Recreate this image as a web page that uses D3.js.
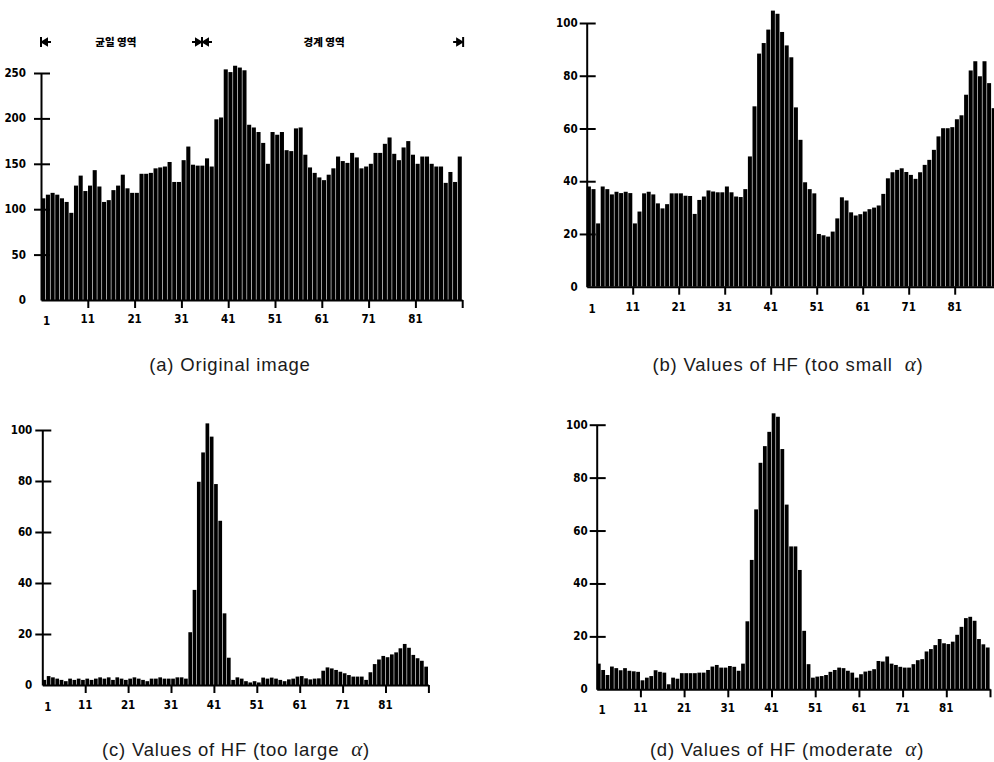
<!DOCTYPE html>
<meta charset="utf-8">
<style>
body { margin: 0; background: #fff; }
svg { display: block; }
.tk { font-family: "Liberation Sans Narrow", "DejaVu Sans Condensed", sans-serif; font-weight: bold; font-size: 11.5px; fill: #000; }
.hd { font-family: "Noto Sans CJK KR", sans-serif; font-weight: 900; font-size: 10.5px; fill: #000; }
.caption { font-family: "Liberation Sans", Arial, sans-serif; font-size: 18.5px; letter-spacing: 0.8px; fill: #1a1a1a; }
.alpha { font-family: "Liberation Serif", "DejaVu Serif", serif; font-style: italic; font-size: 21px; }
</style>
<body>
<script src="https://d3js.org/d3.v7.min.js"></script>
<script>

// bar values, index 1..90
var original = [112,116,118,116,112,108,96,126,137,120,
  126,143,125,108,110,121,126,138,123,118,
  118,139,139,140,145,146,147,152,130,130,
  154,169,149,148,148,156,147,199,201,254,
  251,258,256,253,193,190,185,173,150,185,
  182,185,165,164,189,190,160,146,140,135,
  132,138,145,158,153,151,162,157,145,147,
  150,162,162,172,179,161,154,168,175,160,
  150,158,158,150,147,147,129,141,130,158];

var hfSmall = [38,37,24,38,37,35,36,35.5,36,35.5,
  24,28.5,35.4,36,35,31.6,29.7,31.3,35.4,35.4,
  35.4,34.5,34.4,27.6,32.9,34.2,36.5,36.1,35.8,35.8,
  38,35.8,34.2,34,37,49.4,68.4,88.4,92.4,97.5,
  104.7,103.5,96.6,91.5,87,68,55.7,39.6,37,35.4,
  20,19.5,19,20.9,25.9,33.9,32.7,28.2,27,27.5,
  28.5,29.4,30,30.8,35.2,41.1,43.4,44.3,44.9,43.5,
  42.4,40.9,43.4,46.2,48.1,51.9,57,60.1,60.1,60.5,
  63.5,65,72.8,82,85.5,79.8,85.5,77.2,67.7,60];

var hfLarge = [2,3.5,3,2.5,2,1.5,2.5,2,2.5,2,
  2.5,2,2.5,3,2.5,3,2,3,2.5,2,
  2.5,3,2.5,2,1.5,2.5,2.5,3,2.5,2.5,
  2.5,3,3,2.5,20.7,37.3,79.7,91.2,102.6,97.4,
  78.8,64.4,28.1,10.7,2,3,2.5,1.5,1,1.5,
  1,2.9,2.5,2.9,2.5,2,1.5,2.2,2.5,3.3,
  3.5,2.6,2.2,2.5,2.6,5.6,6.9,6.5,5.9,5.2,
  4.6,3.9,3.3,3.3,3.3,2,5,8.2,10,11.4,
  10.9,12,12.8,14.4,16.1,14.6,11.8,10.5,9.5,7.2];

var hfModerate = [9.7,7.3,5.4,8.6,8,7.2,8,7,6.8,6.6,
  3.4,4.4,5,7.2,6.6,6.3,1.9,4.4,4,6.1,
  6.1,6.1,6.1,6.3,6.3,7.3,8.6,9.2,8.2,8.2,
  8.8,8.5,7,9.7,25.7,48.9,68,85.6,91.9,97.3,
  104.3,103,90.8,69.8,54,54,45.1,22.1,9.5,4.4,
  4.8,5,5.4,6.6,7.3,8.2,8,7,6.3,4.4,
  5.7,6.7,7,7.6,10.7,10.5,12.4,9.7,9.2,8.5,
  8.2,8.2,9.5,11,11.4,14.3,15.2,16.7,19,17.4,
  17.1,18,20.6,23.6,26.9,27.4,25.9,19,17,15.8];

var xLabels = [1, 11, 21, 31, 41, 51, 61, 71, 81];
var xTickMarks = [11, 21, 31, 41, 51, 61, 71, 81, 91];
var yTicksA = [0, 50, 100, 150, 200, 250];
var yTicksHF = [0, 20, 40, 60, 80, 100];

var regions = [
  {name: "균일 영역", from: 1, to: 35.4, labelAt: 17},
  {name: "경계 영역", from: 35.4, to: 91.2, labelAt: 61.5}
];

var panels = [
  {values: original, yMax: 250, yTicks: yTicksA, left: 41, step: 4.68, base: 300, top: 73, lgap: 15, lbl: 19,
   caption: "(a) Original image", alpha: false, capX: 230, capY: 371},
  {values: hfSmall, yMax: 100, yTicks: yTicksHF, left: 586.7, step: 4.6, base: 286.7, top: 23, lgap: 9, lbl: 20,
   caption: "(b) Values of HF (too small  ", alpha: true, capX: 788, capY: 371},
  {values: hfLarge, yMax: 100, yTicks: yTicksHF, left: 42.3, step: 4.29, base: 685, top: 430, lgap: 10, lbl: 20,
   caption: "(c) Values of HF (too large  ", alpha: true, capX: 236, capY: 756},
  {values: hfModerate, yMax: 100, yTicks: yTicksHF, left: 596.7, step: 4.37, base: 689.3, top: 424.7, lgap: 9, lbl: 19,
   caption: "(d) Values of HF (moderate  ", alpha: true, capX: 787, capY: 756}
];

var svg = d3.select("body").append("svg")
  .attr("width", 994)
  .attr("height", 762);

panels.forEach(function(p, k) {
  var x = d3.scaleLinear().domain([1, 91]).range([p.left, p.left + 90 * p.step]);
  var y = d3.scaleLinear().domain([0, p.yMax]).range([p.base, p.top]);
  var g = svg.append("g");

  g.selectAll("rect")
    .data(p.values)
    .enter().append("rect")
      .attr("x", function(d, i) { return x(i + 1) + 0.2; })
      .attr("y", function(d) { return y(d); })
      .attr("width", p.step - 0.6)
      .attr("height", function(d) { return y(0) - y(d); })
      .attr("fill", "#000");

  // x axis
  var xa = g.append("g")
    .attr("transform", "translate(0," + p.base + ")")
    .call(d3.axisBottom(x).tickValues(xTickMarks).tickSizeInner(8).tickSizeOuter(0).tickFormat(""));
  xa.select(".domain").attr("stroke", "#000").attr("stroke-width", 2);
  xa.selectAll(".tick line").attr("stroke", "#000").attr("stroke-width", 2);

  g.selectAll(".xl")
    .data(xLabels)
    .enter().append("text")
      .attr("class", "tk")
      .attr("text-anchor", "middle")
      .attr("x", function(d) { return d == 1 ? x(d) + 5.5 : x(d); })
      .attr("y", function(d) { return p.base + p.lbl + (d == 1 ? 2 : 0); })
      .attr("dy", "0.35em")
      .text(function(d) { return d; });

  // y axis with crossing ticks
  var ya = g.append("g")
    .attr("transform", "translate(" + p.left + ",0)")
    .call(d3.axisLeft(y).tickValues(p.yTicks).tickSizeInner(7).tickSizeOuter(0).tickFormat(""));
  ya.select(".domain").attr("stroke", "#000").attr("stroke-width", 2);
  ya.selectAll(".tick line")
    .attr("x1", 9)
    .attr("stroke", "#000").attr("stroke-width", 2)
    .filter(function(d) { return d == 0; }).remove();

  g.selectAll(".yl")
    .data(p.yTicks)
    .enter().append("text")
      .attr("class", "tk")
      .attr("text-anchor", "end")
      .attr("x", p.left - p.lgap)
      .attr("y", function(d) { return y(d); })
      .attr("dy", "0.35em")
      .text(function(d) { return d; });

  var cap = g.append("text")
    .attr("class", "caption")
    .attr("text-anchor", "middle")
    .attr("x", p.capX)
    .attr("y", p.capY)
    .attr("xml:space", "preserve");
  cap.append("tspan").text(p.caption);
  if (p.alpha) {
    cap.append("tspan").attr("class", "alpha").text("α");
    cap.append("tspan").text(")");
  }

  // region header only on the original image
  if (k == 0) {
    var hy = 42;
    var h = g.append("g").attr("stroke", "#000").attr("stroke-width", 2).attr("fill", "#000");
    regions.forEach(function(r) {
      var a = x(r.from), b = x(r.to);
      h.append("line").attr("x1", a).attr("x2", a).attr("y1", hy - 5).attr("y2", hy + 5);
      h.append("line").attr("x1", a + 2).attr("x2", a + 10).attr("y1", hy).attr("y2", hy);
      h.append("path").attr("d", "M" + (a + 1) + "," + hy + "l5,-3v6z");
      h.append("line").attr("x1", b).attr("x2", b).attr("y1", hy - 5).attr("y2", hy + 5);
      h.append("line").attr("x1", b - 10).attr("x2", b - 2).attr("y1", hy).attr("y2", hy);
      h.append("path").attr("d", "M" + (b - 1) + "," + hy + "l-5,-3v6z");
      g.append("text")
        .attr("class", "hd")
        .attr("text-anchor", "middle")
        .attr("x", x(r.labelAt))
        .attr("y", hy)
        .attr("dy", "0.35em")
        .text(r.name);
    });
  }
});

</script>
